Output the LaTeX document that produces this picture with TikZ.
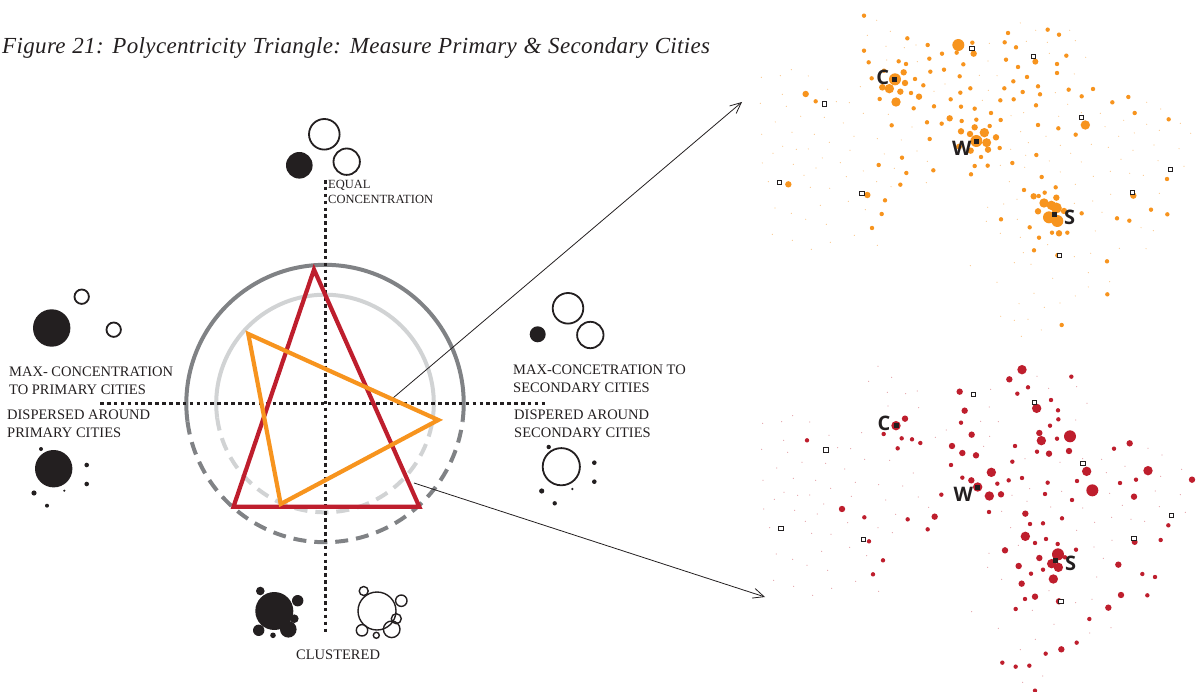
\documentclass[tikz,border=0pt]{standalone}
\usepackage{xcolor}
\usepackage{fontspec}
\setmainfont{Liberation Serif}
\newfontfamily\cityfont{Open Sans}
\newfontfamily\titlefont[LetterSpace=1.5,WordSpace=1.1]{Liberation Serif}
\usetikzlibrary{arrows.meta}
\definecolor{cityred}{HTML}{BE1E2D}
\definecolor{cityorange}{HTML}{F7941E}
\definecolor{ink}{HTML}{231F20}
\definecolor{ringdark}{HTML}{808285}
\definecolor{ringlight}{HTML}{D1D3D4}
\tikzset{>={Straight Barb[length=11pt,width=10pt]},
  axis/.style={ink,line width=2.8pt,dash pattern=on 3.6pt off 3.3pt},
  ringdash/.style={dash pattern=on 13pt off 8pt},
  tri/.style={line width=4.2pt,miter limit=20},
  hollow/.style={ink,line width=1.8pt},
  thinhollow/.style={ink,line width=1.4pt},
  lbl/.style={inner sep=0pt,anchor=base west,align=left,text=ink,font=\fontsize{14.5}{17.5}\selectfont},
  citysq/.style={ink,fill=white,line width=1pt},
  citylbl/.style={inner sep=0pt,text=ink,font=\cityfont\bfseries\fontsize{20}{20}\selectfont}}
% dots common to both maps, in zoomed pixels
\def\tinydots{350/61,322/106,391/94,378/139,433/143,468/135,472/185,380/180,94/209,61/227,4/232,145/228,203/268,67/283,301/260,229/305,268/308,79/319,1/310,122/349,193/352,310/340,385/343,46/366,250/369,5/403,96/397,163/403,282/409,352/416,424/420,208/427,68/439,145/447,109/448,270/451,39/460,187/474,373/462,456/381,471/453,7/489,100/493,168/504,241/488,502/484,403/505,310/513,132/526,259/530,25/545,350/545,499/548,151/562,209/565,393/560,265/604,181/616,45/624,316/629,94/640,137/658,199/673,37/703,97/721,283/706,211/727,154/748,352/736,781/69,827/91,929/91,946/122,799/124,862/127,688/130,868/160,684/183,977/172,943/222,711/227,658/226,886/278,685/271,667/301,555/252,522/274,923/313,964/338,791/338,753/347,1021/340,896/349,1091/361,1160/307,1202/327,1160/373,1261/370,1292/400,1198/391,1123/399,1035/380,1076/409,858/409,782/395,805/428,752/448,901/436,994/433,1045/442,1182/435,1257/446,932/460,797/466,1119/451,868/483,964/486,1083/478,1194/482,1272/499,1109/520,1150/526,1051/514,1000/529,901/516,794/502,721/496,748/545,946/553,1198/580,1052/583,998/603,943/610,771/598,731/612,683/622,679/664,772/658,1026/637,1143/683,1180/692,1006/693,721/700,781/712,1078/745,1158/746,992/760,943/770,790/758,863/734,813/793,763/788,631/797,985/818,878/835,1049/845,711/847,985/861,822/880,946/888,777/911,900/909,853/922,722/949,763/961,804/958,844/990,784/1009}
\def\towns{194/312,636/145,820/169,965/352,1231/508,1118/578,899/767,306/581,59/547}
\begin{document}
\begin{tikzpicture}[x=1pt,y=-1pt]
  \useasboundingbox (0,0) rectangle (1198,692);

  \node[lbl,font=\titlefont\itshape\fontsize{23}{23}\selectfont] (title) at (2,54) {Figure 21: Polycentricity Triangle: Measure Primary \& Secondary Cities};

  % rings
  \draw[ringdark,line width=4pt] (325,403.5)++(7.5:138.7) arc[start angle=7.5,end angle=-187.5,radius=138.7];
  \draw[ringdark,line width=4pt,ringdash] (325,403.5)++(172.5:138.7) arc[start angle=172.5,end angle=7.5,radius=138.7];
  \draw[ringlight,line width=4pt] (325,403.5)++(7.5:108.8) arc[start angle=7.5,end angle=-187.5,radius=108.8];
  \draw[ringlight,line width=4pt,ringdash] (325,403.5)++(172.5:108.8) arc[start angle=172.5,end angle=7.5,radius=108.8];

  % pointers
  \coordinate (orangefrom) at (393,398);
  \coordinate (orangemap) at (742,102);
  \coordinate (redfrom) at (414,483);
  \coordinate (redmap) at (765,597);
  \draw[->,ink,line width=.8pt] (orangefrom)--(orangemap);
  \draw[->,ink,line width=.8pt] (redfrom)--(redmap);

  % axes
  \draw[axis] (100,403.5)--(548,403.5);
  \draw[axis] (325.5,180)--(325.5,632);

  % triangles
  \draw[tri,cityred] (314,269.5)--(233.5,506.7)--(419.3,506.7)--cycle;
  \draw[tri,cityorange] (248.3,334)--(438.3,420)--(280.7,504)--cycle;

  % top
  \draw[hollow] (324.3,134.3) circle (15.3);
  \draw[hollow] (346.7,161.7) circle (13.2);
  \fill[ink] (299.3,165.3) circle (13.3);
  \node[lbl,font=\fontsize{12.5}{15}\selectfont] (equal) at (328,204) {EQUAL\\CONCENTRATION};

  % left
  \draw[hollow] (81.7,296.7) circle (7.2);
  \draw[hollow] (113.7,329.7) circle (7.2);
  \fill[ink] (51.7,328) circle (18.7);
  \node[lbl] (maxprimary) at (9,394) {MAX- CONCENTRATION\\TO PRIMARY CITIES};
  \node[lbl] (disprimary) at (7,437) {DISPERSED AROUND\\PRIMARY CITIES};
  \fill[ink] (53.7,468.7) circle (18.7);
  \foreach \x/\y/\r in {41/449/2,86.7/465/2.3,86.7/484/2.3,64.3/490.7/1.2,34/493/2.6,47/505.7/2}
    \fill[ink] (\x,\y) circle (\r);

  % right
  \draw[hollow] (568,308.3) circle (15.3);
  \draw[hollow] (590.3,335) circle (13.2);
  \fill[ink] (537.7,334.3) circle (8);
  \node[lbl] (maxsecondary) at (513,392) {MAX-CONCETRATION TO\\SECONDARY CITIES};
  \node[lbl] (dissecondary) at (514,437) {DISPERED AROUND\\SECONDARY CITIES};
  \draw[hollow] (561.3,466.7) circle (18.6);
  \foreach \x/\y/\r in {548.7/447/2.2,594.3/462.7/2.3,594.3/481.7/2.3,572.3/489/1.3,541.7/491/2.6,554.7/503.3/2.2}
    \fill[ink] (\x,\y) circle (\r);

  % bottom
  \foreach \x/\y/\r in {274.3/611/19,260.3/591/4.3,297.7/600.7/5.7,294.3/618.7/4.3,258.7/630.3/5.7,288.3/629.3/8.3,273/635.3/2.8}
    \fill[ink] (\x,\y) circle (\r);
  \foreach \x/\y/\r in {377/611/19,363.7/591/4.5,401.3/600.7/5.7,396.3/618.7/5,362/630.3/5.7,391.7/629.3/8.3,376.3/635.3/3}
    \draw[thinhollow] (\x,\y) circle (\r);
  \node[lbl] (clustered) at (296,659) {CLUSTERED};

  % orange map
  \begin{scope}[shift={(760,0)},x=.33333pt,y=-.33333pt]
    \foreach \x/\y in \tinydots
      \fill[cityorange!50] (\x,\y) circle (.6pt);
    \foreach \x/\y in {312/47,442/115,503/135,312/152,546/161,590/158,637/128,508/176,326/187,416/184,438/192,610/193,511/215,552/209,372/212,335/235,465/237,490/256,599/229,453/279,601/278,631/265,359/297,572/298,522/319,461/325,603/320,644/326,395/376,501/367,545/371,605/363,649/359,693/339,722/360,689/378,509/417,719/444,426/473,356/495,439/519,520/511,644/498,683/497,663/471,633/523,757/489,421/554,375/601,365/642,336/684,167/304,744/99,734/127,768/142,863/89,897/104,738/179,774/201,801/231,760/244,733/265,788/276,721/301,761/298,828/316,834/259,840/283,891/192,891/219,919/167,926/269,965/289,999/267,1057/307,1105/291,1124/339,1226/358,895/385,947/404,834/375,829/465,845/531,887/562,792/570,854/578,836/588,723/658,809/682,837/713,876/698,922/698,822/751,965/640,1071/655,1108/662,1173/629,1221/537,1222/643,1041/784,1042/883,905/975}
      \fill[cityorange] (\x,\y) circle (2.2pt);
    \foreach \x/\y/\r in {595/135/6,405/238/6,388/266/4.7,367/262/3.3,431/217/3.2,435/249/3.2,421/275/3.2,477/290/3.2,408/306/4.7,137/282/3.2,85/553/3.2,322/585/3.2,569/355/3.2,641/161/3.2,826/185/3,976/375/4.7,603/394/3.2,630/402/3.2,644/382/3.2,673/398/4.7,708/412/3.2,649/423/6,680/428/4.5,684/449/3.2,632/452/3.2,597/440/3,852/609/4.7,874/616/4.7,889/624/5.5,912/633/3.2,834/634/3.2,867/652/6,892/663/6,821/589/3.2,889/593/3.2,897/700/3.2,1120/587/3.2,893/766/2.5}
      \fill[cityorange] (\x,\y) circle (\r pt);
    \foreach \x/\y in \towns
      \draw[citysq] (\x-6.5,\y-6.5) rectangle (\x+6.5,\y+6.5);
    \foreach \x/\y in {403/238,649/424,883/643}
      \fill[ink] (\x-8,\y-8) rectangle (\x+8,\y+8);
    \node[citylbl] (orangeC) at (368,232) {C};
    \node[citylbl] (orangeW) at (605,446) {W};
    \node[citylbl] (orangeS) at (929,653) {S};
  \end{scope}

  % red map
  \begin{scope}[shift={(760,350)},x=.33333pt,y=-.33333pt]
    \foreach \x/\y in \tinydots
      \fill[cityred!40] (\x+4,\y-12) circle (.6pt);
    \foreach \x/\y in {934/80,804/112,772/131,873/150,894/181,895/208,870/227,891/266,603/218,831/305,765/288,757/335,573/345,607/383,712/401,746/391,786/384,863/398,951/393,855/432,936/450,544/434,687/486,810/522,849/520,906/505,825/579,858/567,893/582,948/599,915/622,813/671,849/659,795/747,767/777,988/807,950/878,857/911,727/938,767/950,808/947,825/1022,1062/296,1080/399,1128/389,1225/526,1202/570,1147/672,1185/681,1162/736,141/271,371/252,425/265,456/268,481/279,413/295,313/502,443/508,503/538,327/574,369/631,339/673}
      \fill[cityred] (\x,\y) circle (2.2pt);
    \foreach \x/\y/\r in {786/59/4.7,748/88/3.2,599/125/3.2,614/182/3.2,830/175/4.7,838/249/3.2,844/272/4.7,930/259/6,635/254/3.2,576/288/3.2,607/309/3.2,648/316/3.2,867/311/3.2,927/303/3.2,1109/280/3.2,694/367/4.7,634/391/3.2,653/411/4.7,688/438/4.7,723/433/3.2,980/364/4.7,997/421/6,1164/362/4.7,1296/389/3.2,1122/440/3.2,246/477/3.2,524/500/3.2,796/491/3.2,796/559/4.7,735/601/3.2,838/624/3.2,776/648/3.2,894/613/6,875/641/4.7,895/652/4.7,880/687/4.7,785/701/3.2,825/740/3.2,1075/644/3.2,1083/735/3.2,1045/773/3.2,904/898/3.2,408/227/4.7,435/206/3.2,897/754/3.2,1124/576/3}
      \fill[cityred] (\x,\y) circle (\r pt);
    \foreach \x/\y in \towns
      \draw[citysq] (\x+4-6.5,\y-12-6.5) rectangle (\x+4+6.5,\y-12+6.5);
    \foreach \x/\y in {409/227,652/412,886/631}
      \fill[ink] (\x-8,\y-8) rectangle (\x+8,\y+8);
    \node[citylbl] (redC) at (372,220) {C};
    \node[citylbl] (redW) at (610,433) {W};
    \node[citylbl] (redS) at (932,641) {S};
  \end{scope}
\end{tikzpicture}
\end{document}
